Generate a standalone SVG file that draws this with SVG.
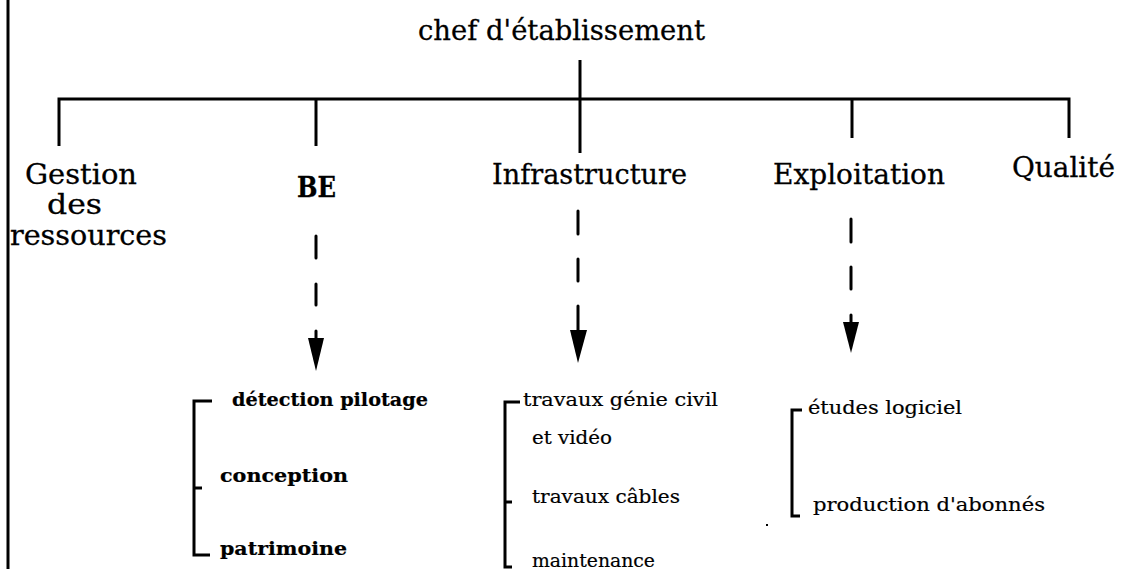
<svg xmlns="http://www.w3.org/2000/svg" width="1122" height="569" viewBox="0 0 1122 569">
<style>
.t{font-family:"DejaVu Serif","Liberation Serif",serif;fill:#000;font-size:28px;stroke:#000;stroke-width:0.3}
.s{font-family:"DejaVu Serif","Liberation Serif",serif;fill:#000;font-size:19px;stroke:#000;stroke-width:0.2}
.b{font-weight:bold}
.ln{stroke:#000;stroke-width:3;fill:none}
.br{stroke:#000;stroke-width:3;fill:none}
.ds{stroke:#000;stroke-width:3;fill:none;stroke-linecap:round}
</style>
<rect width="1122" height="569" fill="#fff"/>
<line x1="8" y1="0" x2="8" y2="569" class="ln"/>

<g id="connectors">
<line x1="580" y1="60" x2="580" y2="153" class="ln"/>
<polyline points="59,146 59,99 1069,99 1069,138" class="ln"/>
<line x1="316" y1="99" x2="316" y2="146" class="ln"/>
<line x1="852" y1="99" x2="852" y2="138" class="ln"/>
<line x1="316" y1="236" x2="316" y2="258" class="ds"/>
<line x1="316" y1="284" x2="316" y2="305" class="ds"/>
<line x1="316" y1="331" x2="316" y2="345" class="ds"/>
<polygon points="308,338 324,338 316,371" fill="#000"/>
<line x1="578" y1="211" x2="578" y2="234" class="ds"/>
<line x1="578" y1="259" x2="578" y2="281" class="ds"/>
<line x1="578" y1="306" x2="578" y2="335" class="ds"/>
<polygon points="570,330 587,330 578,363" fill="#000"/>
<line x1="851" y1="219" x2="851" y2="242" class="ds"/>
<line x1="851" y1="267" x2="851" y2="289" class="ds"/>
<line x1="851" y1="315" x2="851" y2="326" class="ds"/>
<polygon points="843,322 859,322 851,353" fill="#000"/>
</g>

<g id="chef">
<text x="418" y="40" class="t" textLength="287" lengthAdjust="spacingAndGlyphs">chef d'établissement</text>
</g>

<g id="gestion">
<text x="25" y="184" class="t" textLength="112" lengthAdjust="spacingAndGlyphs">Gestion</text>
<text x="47" y="214" class="t" textLength="55" lengthAdjust="spacingAndGlyphs">des</text>
<text x="10" y="245" class="t" textLength="157" lengthAdjust="spacingAndGlyphs">ressources</text>
</g>

<g id="be">
<text x="297" y="197" class="t b" textLength="39" lengthAdjust="spacingAndGlyphs">BE</text>
</g>

<g id="infrastructure">
<text x="492" y="184" class="t" textLength="195" lengthAdjust="spacingAndGlyphs">Infrastructure</text>
</g>

<g id="exploitation">
<text x="773" y="184" class="t" textLength="172" lengthAdjust="spacingAndGlyphs">Exploitation</text>
</g>

<g id="qualite">
<text x="1012" y="177" class="t" textLength="103" lengthAdjust="spacingAndGlyphs">Qualité</text>
</g>

<g id="be-sub">
<polyline points="212,401 194,401 194,555 210,555" class="br"/>
<line x1="194" y1="488" x2="202" y2="488" class="br"/>
<text x="232" y="406" class="s b" textLength="196" lengthAdjust="spacingAndGlyphs">détection pilotage</text>
<text x="220" y="482" class="s b" textLength="128" lengthAdjust="spacingAndGlyphs">conception</text>
<text x="220" y="555" class="s b" textLength="127" lengthAdjust="spacingAndGlyphs">patrimoine</text>
</g>

<g id="infra-sub">
<polyline points="520,402 505,402 505,567 512,567" class="br"/>
<line x1="505" y1="502" x2="512" y2="502" class="br"/>
<text x="523" y="406" class="s" textLength="195" lengthAdjust="spacingAndGlyphs">travaux génie civil</text>
<text x="532" y="444" class="s" textLength="80" lengthAdjust="spacingAndGlyphs">et vidéo</text>
<text x="532" y="503" class="s" textLength="148" lengthAdjust="spacingAndGlyphs">travaux câbles</text>
<text x="532" y="567" class="s" textLength="123" lengthAdjust="spacingAndGlyphs">maintenance</text>
</g>

<g id="exploit-sub">
<polyline points="802,410 792,410 792,516 800,516" class="br"/>
<text x="808" y="414" class="s" textLength="154" lengthAdjust="spacingAndGlyphs">études logiciel</text>
<text x="813" y="511" class="s" textLength="232" lengthAdjust="spacingAndGlyphs">production d'abonnés</text>
</g>
<rect x="766" y="524" width="2" height="2" fill="#000"/>
</svg>
